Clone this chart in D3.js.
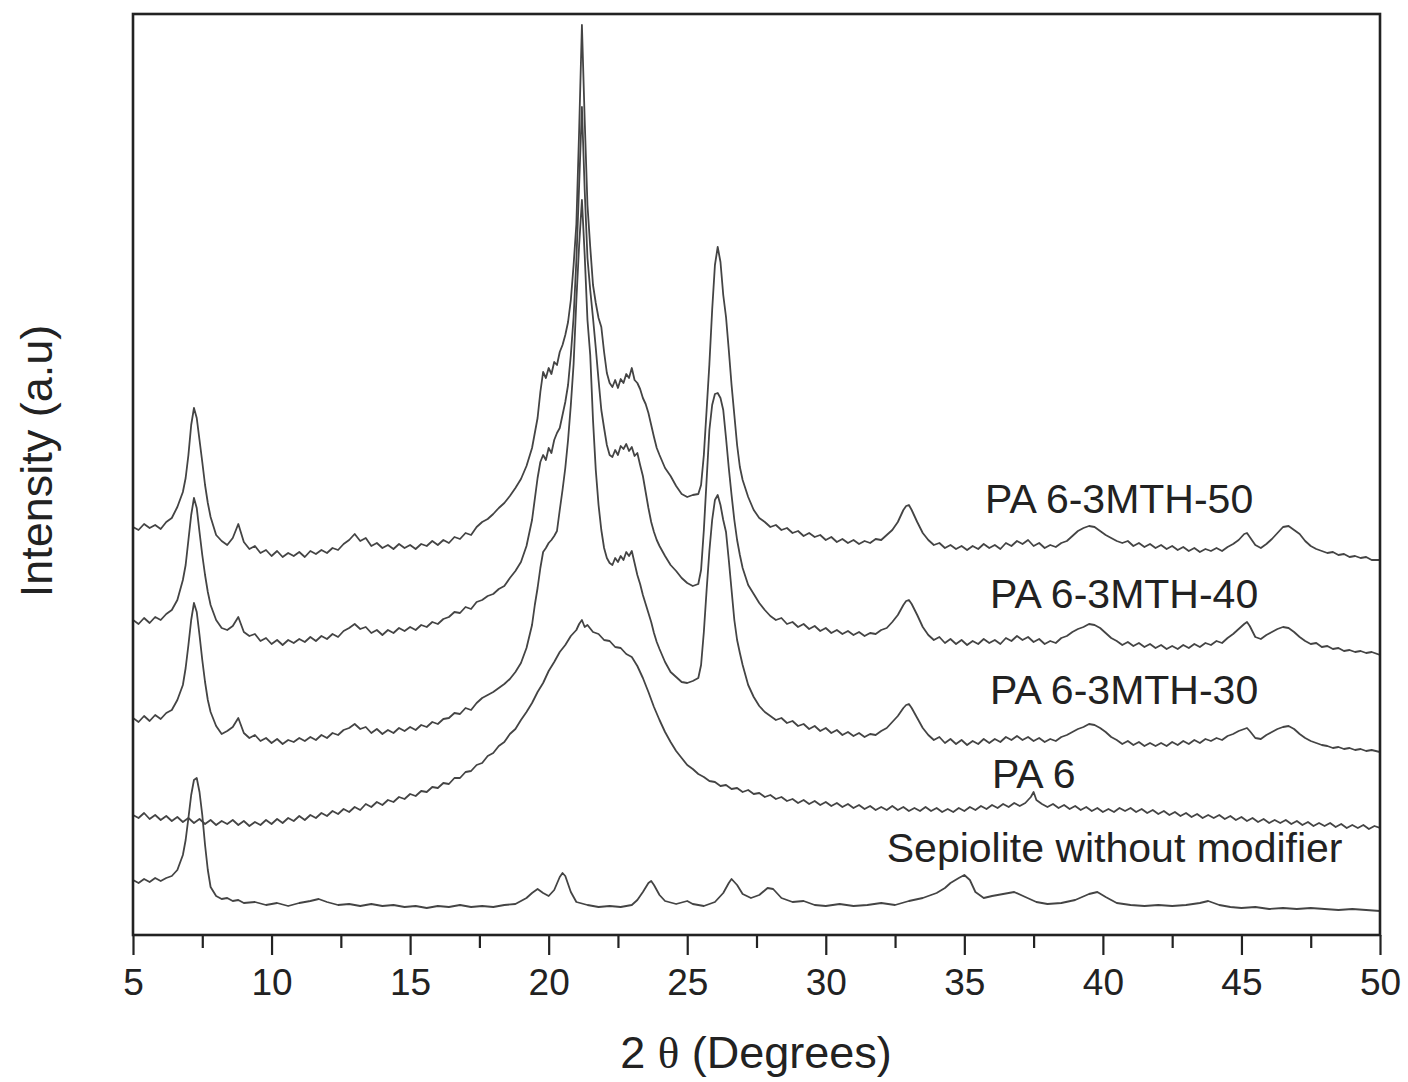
<!DOCTYPE html>
<html>
<head>
<meta charset="utf-8">
<script src="https://cdn.jsdelivr.net/npm/d3@7"></script>
<style>
body { margin: 0; background: #fff; }
text { font-family: "Liberation Sans", Arial, Helvetica, sans-serif; fill: #222; }
</style>
</head>
<body>
<div id="drawArea"></div>
<script>
// XRD patterns, [2 theta (deg), intensity (a.u., stacked as plotted)]
var pa6_3mth50 = [[5.0,473],[5.2,470],[5.4,476],[5.6,472],[5.8,475],[6.0,471],[6.2,478],[6.4,482],[6.6,493],[6.8,508],[6.9,522],[7.0,545],[7.1,575],[7.2,592],[7.3,582],[7.4,560],[7.5,538],[7.6,515],[7.7,497],[7.8,483],[8.0,465],[8.2,459],[8.4,455],[8.6,462],[8.8,476],[9.0,458],[9.2,451],[9.4,454],[9.6,447],[9.8,450],[10.0,444],[10.2,449],[10.4,443],[10.6,447],[10.8,444],[11.0,448],[11.2,443],[11.4,449],[11.6,446],[11.8,450],[12.0,447],[12.2,452],[12.4,450],[12.6,456],[12.8,460],[13.0,466],[13.2,459],[13.4,462],[13.6,454],[13.8,457],[14.0,452],[14.2,455],[14.4,451],[14.6,456],[14.8,452],[15.0,455],[15.2,451],[15.4,456],[15.6,454],[15.8,459],[16.0,455],[16.2,460],[16.4,457],[16.6,463],[16.8,461],[17.0,467],[17.2,465],[17.4,473],[17.6,478],[17.8,481],[18.0,486],[18.2,492],[18.4,497],[18.6,504],[18.8,512],[19.0,521],[19.2,534],[19.4,552],[19.6,582],[19.7,608],[19.8,628],[19.9,622],[20.0,632],[20.1,626],[20.2,638],[20.3,635],[20.4,648],[20.5,655],[20.6,665],[20.7,678],[20.8,700],[20.9,735],[21.0,776],[21.1,870],[21.2,975],[21.3,880],[21.4,795],[21.5,753],[21.6,715],[21.7,697],[21.8,682],[21.9,673],[22.0,648],[22.1,627],[22.2,617],[22.3,613],[22.4,620],[22.5,612],[22.6,621],[22.7,617],[22.8,626],[22.9,622],[23.0,632],[23.1,620],[23.2,617],[23.3,611],[23.4,602],[23.5,596],[23.6,587],[23.7,575],[23.8,563],[23.9,552],[24.0,545],[24.2,532],[24.4,524],[24.6,514],[24.8,506],[25.0,503],[25.2,505],[25.4,506],[25.5,515],[25.6,545],[25.7,590],[25.8,636],[25.9,690],[26.0,735],[26.1,753],[26.2,738],[26.3,705],[26.4,683],[26.5,650],[26.6,615],[26.7,585],[26.8,555],[26.9,533],[27.0,520],[27.2,503],[27.4,490],[27.6,482],[27.8,478],[28.0,473],[28.2,475],[28.4,470],[28.6,472],[28.8,467],[29.0,469],[29.2,464],[29.4,467],[29.6,463],[29.8,465],[30.0,460],[30.2,463],[30.4,458],[30.6,461],[30.8,457],[31.0,460],[31.2,456],[31.4,459],[31.6,457],[31.8,461],[32.0,460],[32.2,465],[32.4,470],[32.6,478],[32.8,490],[32.9,494],[33.0,495],[33.1,490],[33.3,478],[33.5,467],[33.7,460],[33.9,455],[34.1,457],[34.3,452],[34.5,455],[34.7,451],[34.9,454],[35.1,450],[35.3,454],[35.5,451],[35.7,456],[35.9,452],[36.1,455],[36.3,451],[36.5,457],[36.7,454],[36.9,459],[37.1,456],[37.3,460],[37.5,454],[37.7,457],[37.9,452],[38.1,455],[38.3,453],[38.5,457],[38.7,459],[38.9,464],[39.1,469],[39.3,472],[39.5,474],[39.7,473],[39.9,469],[40.1,465],[40.3,462],[40.5,459],[40.7,457],[40.9,459],[41.1,454],[41.3,457],[41.5,453],[41.7,456],[41.9,452],[42.1,455],[42.3,451],[42.5,454],[42.7,450],[42.9,453],[43.1,449],[43.3,452],[43.5,448],[43.7,451],[43.9,449],[44.1,452],[44.3,449],[44.5,453],[44.7,456],[44.9,460],[45.1,466],[45.2,467],[45.3,463],[45.5,455],[45.7,452],[45.9,456],[46.1,461],[46.3,467],[46.5,473],[46.7,474],[46.9,470],[47.1,466],[47.3,459],[47.5,454],[47.7,451],[47.9,449],[48.1,447],[48.3,448],[48.5,445],[48.7,446],[48.9,443],[49.1,444],[49.3,442],[49.5,443],[49.7,440],[50.0,440]];

var pa6_3mth40 = [[5.0,380],[5.2,376],[5.4,382],[5.6,377],[5.8,383],[6.0,380],[6.2,386],[6.4,390],[6.6,400],[6.8,420],[6.9,435],[7.0,460],[7.1,485],[7.2,502],[7.3,492],[7.4,468],[7.5,445],[7.6,425],[7.7,408],[7.8,395],[8.0,380],[8.2,372],[8.4,370],[8.6,374],[8.8,383],[9.0,368],[9.2,364],[9.4,366],[9.6,359],[9.8,362],[10.0,356],[10.2,360],[10.4,355],[10.6,360],[10.8,357],[11.0,361],[11.2,358],[11.4,363],[11.6,359],[11.8,364],[12.0,361],[12.2,366],[12.4,363],[12.6,369],[12.8,372],[13.0,376],[13.2,371],[13.4,373],[13.6,367],[13.8,370],[14.0,365],[14.2,370],[14.4,367],[14.6,372],[14.8,369],[15.0,373],[15.2,370],[15.4,375],[15.6,373],[15.8,378],[16.0,376],[16.2,381],[16.4,383],[16.6,388],[16.8,387],[17.0,393],[17.2,391],[17.4,398],[17.6,400],[17.8,404],[18.0,406],[18.2,411],[18.4,414],[18.6,422],[18.8,429],[19.0,438],[19.2,454],[19.4,480],[19.6,522],[19.7,538],[19.8,545],[19.9,540],[20.0,552],[20.1,547],[20.2,560],[20.3,567],[20.4,572],[20.5,585],[20.6,598],[20.7,615],[20.8,645],[20.9,683],[21.0,740],[21.1,815],[21.2,893],[21.3,810],[21.4,742],[21.5,710],[21.6,682],[21.7,652],[21.8,620],[21.9,590],[22.0,572],[22.1,555],[22.2,545],[22.3,543],[22.4,550],[22.5,545],[22.6,554],[22.7,551],[22.8,556],[22.9,549],[23.0,553],[23.1,544],[23.2,547],[23.3,535],[23.4,524],[23.5,508],[23.6,492],[23.7,478],[23.8,468],[23.9,460],[24.0,454],[24.2,444],[24.4,435],[24.6,429],[24.8,422],[25.0,417],[25.2,414],[25.4,416],[25.5,430],[25.6,470],[25.7,520],[25.8,570],[25.9,595],[26.0,606],[26.1,607],[26.2,602],[26.3,590],[26.4,562],[26.5,532],[26.6,505],[26.7,480],[26.8,460],[26.9,445],[27.0,432],[27.2,415],[27.4,406],[27.6,397],[27.8,390],[28.0,384],[28.2,380],[28.4,382],[28.6,376],[28.8,378],[29.0,373],[29.2,376],[29.4,371],[29.6,374],[29.8,369],[30.0,372],[30.2,367],[30.4,370],[30.6,366],[30.8,369],[31.0,365],[31.2,368],[31.4,364],[31.6,367],[31.8,366],[32.0,370],[32.2,372],[32.4,378],[32.6,385],[32.8,395],[32.9,399],[33.0,400],[33.1,396],[33.3,385],[33.5,373],[33.7,365],[33.9,360],[34.1,363],[34.3,357],[34.5,361],[34.7,356],[34.9,360],[35.1,355],[35.3,359],[35.5,356],[35.7,361],[35.9,357],[36.1,360],[36.3,356],[36.5,362],[36.7,359],[36.9,364],[37.1,360],[37.3,363],[37.5,358],[37.7,361],[37.9,356],[38.1,359],[38.3,357],[38.5,362],[38.7,364],[38.9,368],[39.1,371],[39.3,373],[39.5,376],[39.7,375],[39.9,372],[40.1,367],[40.3,362],[40.5,359],[40.7,355],[40.9,358],[41.1,354],[41.3,357],[41.5,353],[41.7,356],[41.9,352],[42.1,355],[42.3,351],[42.5,354],[42.7,351],[42.9,355],[43.1,352],[43.3,356],[43.5,353],[43.7,357],[43.9,355],[44.1,359],[44.3,357],[44.5,362],[44.7,366],[44.9,371],[45.1,376],[45.2,378],[45.3,374],[45.5,363],[45.7,361],[45.9,365],[46.1,368],[46.3,371],[46.5,373],[46.7,372],[46.9,368],[47.1,363],[47.3,359],[47.5,356],[47.7,357],[47.9,353],[48.1,354],[48.3,351],[48.5,352],[48.7,349],[48.9,350],[49.1,348],[49.3,349],[49.5,347],[49.7,348],[50.0,345]];

var pa6_3mth30 = [[5.0,282],[5.2,278],[5.4,284],[5.6,279],[5.8,285],[6.0,281],[6.2,287],[6.4,290],[6.6,300],[6.8,315],[6.9,332],[7.0,355],[7.1,380],[7.2,397],[7.3,388],[7.4,365],[7.5,340],[7.6,318],[7.7,300],[7.8,288],[8.0,274],[8.2,266],[8.4,269],[8.6,273],[8.8,282],[9.0,267],[9.2,262],[9.4,265],[9.6,259],[9.8,262],[10.0,257],[10.2,261],[10.4,256],[10.6,260],[10.8,258],[11.0,262],[11.2,259],[11.4,263],[11.6,260],[11.8,265],[12.0,262],[12.2,267],[12.4,265],[12.6,270],[12.8,272],[13.0,276],[13.2,271],[13.4,273],[13.6,267],[13.8,271],[14.0,266],[14.2,270],[14.4,267],[14.6,272],[14.8,269],[15.0,273],[15.2,270],[15.4,275],[15.6,273],[15.8,278],[16.0,276],[16.2,281],[16.4,282],[16.6,287],[16.8,286],[17.0,292],[17.2,290],[17.4,297],[17.6,302],[17.8,305],[18.0,308],[18.2,312],[18.4,316],[18.6,321],[18.8,328],[19.0,337],[19.2,352],[19.4,375],[19.5,395],[19.6,412],[19.7,432],[19.8,448],[19.9,452],[20.0,457],[20.1,460],[20.2,464],[20.3,469],[20.4,490],[20.5,510],[20.6,532],[20.7,560],[20.8,595],[20.9,636],[21.0,700],[21.1,755],[21.2,800],[21.3,745],[21.4,680],[21.5,645],[21.6,580],[21.7,530],[21.8,495],[21.9,470],[22.0,452],[22.1,442],[22.2,437],[22.3,435],[22.4,442],[22.5,438],[22.6,444],[22.7,440],[22.8,448],[22.9,444],[23.0,449],[23.1,437],[23.2,425],[23.3,416],[23.4,405],[23.5,396],[23.6,387],[23.7,378],[23.8,367],[23.9,358],[24.0,351],[24.2,338],[24.4,328],[24.6,323],[24.8,318],[25.0,317],[25.2,319],[25.4,322],[25.5,335],[25.6,368],[25.7,410],[25.8,449],[25.9,480],[26.0,500],[26.1,505],[26.2,495],[26.3,480],[26.4,468],[26.5,440],[26.6,410],[26.7,380],[26.8,360],[26.9,347],[27.0,335],[27.2,315],[27.4,303],[27.6,294],[27.8,288],[28.0,284],[28.2,280],[28.4,282],[28.6,277],[28.8,279],[29.0,274],[29.2,276],[29.4,271],[29.6,274],[29.8,269],[30.0,272],[30.2,267],[30.4,270],[30.6,265],[30.8,268],[31.0,264],[31.2,267],[31.4,263],[31.6,266],[31.8,265],[32.0,269],[32.2,272],[32.4,278],[32.6,284],[32.8,292],[32.9,295],[33.0,296],[33.1,292],[33.3,282],[33.5,272],[33.7,265],[33.9,260],[34.1,263],[34.3,257],[34.5,261],[34.7,256],[34.9,260],[35.1,255],[35.3,259],[35.5,256],[35.7,261],[35.9,257],[36.1,261],[36.3,258],[36.5,263],[36.7,260],[36.9,264],[37.1,260],[37.3,263],[37.5,259],[37.7,262],[37.9,258],[38.1,261],[38.3,259],[38.5,263],[38.7,265],[38.9,268],[39.1,271],[39.3,273],[39.5,276],[39.7,275],[39.9,272],[40.1,268],[40.3,263],[40.5,260],[40.7,256],[40.9,259],[41.1,255],[41.3,258],[41.5,254],[41.7,257],[41.9,254],[42.1,257],[42.3,254],[42.5,258],[42.7,255],[42.9,259],[43.1,256],[43.3,260],[43.5,257],[43.7,261],[43.9,259],[44.1,262],[44.3,260],[44.5,264],[44.7,266],[44.9,269],[45.1,271],[45.2,272],[45.3,269],[45.5,262],[45.7,261],[45.9,265],[46.1,268],[46.3,271],[46.5,273],[46.7,274],[46.9,271],[47.1,266],[47.3,262],[47.5,259],[47.7,257],[47.9,255],[48.1,254],[48.3,252],[48.5,253],[48.7,251],[48.9,252],[49.1,250],[49.3,251],[49.5,249],[49.7,250],[50.0,248]];

var pa6 = [[5.0,185],[5.2,182],[5.4,187],[5.6,181],[5.8,185],[6.0,180],[6.2,184],[6.4,179],[6.6,183],[6.8,178],[7.0,182],[7.2,177],[7.4,181],[7.6,176],[7.8,180],[8.0,175],[8.2,179],[8.4,176],[8.6,180],[8.8,175],[9.0,179],[9.2,174],[9.4,178],[9.6,175],[9.8,180],[10.0,176],[10.2,181],[10.4,177],[10.6,182],[10.8,179],[11.0,184],[11.2,180],[11.4,185],[11.6,182],[11.8,187],[12.0,184],[12.2,189],[12.4,186],[12.6,191],[12.8,188],[13.0,193],[13.2,190],[13.4,196],[13.6,193],[13.8,198],[14.0,195],[14.2,200],[14.4,198],[14.6,203],[14.8,201],[15.0,206],[15.2,204],[15.4,209],[15.6,208],[15.8,213],[16.0,212],[16.2,217],[16.4,216],[16.6,222],[16.8,222],[17.0,228],[17.2,229],[17.4,235],[17.6,237],[17.8,244],[18.0,247],[18.2,254],[18.4,258],[18.6,266],[18.8,271],[19.0,280],[19.2,288],[19.4,297],[19.6,308],[19.8,317],[20.0,329],[20.2,338],[20.4,348],[20.6,355],[20.8,364],[21.0,370],[21.1,376],[21.2,380],[21.3,373],[21.4,375],[21.6,368],[21.8,366],[22.0,360],[22.2,359],[22.4,353],[22.6,352],[22.8,346],[23.0,343],[23.2,334],[23.4,322],[23.6,308],[23.8,293],[24.0,280],[24.2,268],[24.4,258],[24.6,249],[24.8,242],[25.0,235],[25.2,231],[25.4,226],[25.6,223],[25.8,219],[26.0,218],[26.2,214],[26.4,215],[26.6,211],[26.8,212],[27.0,208],[27.2,210],[27.4,206],[27.6,207],[27.8,203],[28.0,205],[28.2,201],[28.4,203],[28.6,199],[28.8,201],[29.0,197],[29.2,200],[29.4,196],[29.6,199],[29.8,195],[30.0,198],[30.2,194],[30.4,197],[30.6,193],[30.8,196],[31.0,192],[31.2,195],[31.4,191],[31.6,194],[31.8,190],[32.0,193],[32.2,190],[32.4,194],[32.6,190],[32.8,193],[33.0,189],[33.2,192],[33.4,189],[33.6,193],[33.8,189],[34.0,192],[34.2,188],[34.4,191],[34.6,188],[34.8,192],[35.0,189],[35.2,193],[35.4,190],[35.6,194],[35.8,191],[36.0,195],[36.2,192],[36.4,196],[36.6,193],[36.8,197],[37.0,194],[37.2,197],[37.4,203],[37.5,208],[37.6,200],[37.8,196],[38.0,193],[38.2,196],[38.4,192],[38.6,195],[38.8,191],[39.0,194],[39.2,190],[39.4,193],[39.6,189],[39.8,192],[40.0,188],[40.2,191],[40.4,188],[40.6,192],[40.8,189],[41.0,192],[41.2,188],[41.4,191],[41.6,187],[41.8,190],[42.0,186],[42.2,189],[42.4,185],[42.6,188],[42.8,184],[43.0,187],[43.2,183],[43.4,186],[43.6,182],[43.8,185],[44.0,182],[44.2,185],[44.4,181],[44.6,184],[44.8,180],[45.0,183],[45.2,179],[45.4,182],[45.6,178],[45.8,181],[46.0,177],[46.2,180],[46.4,177],[46.6,180],[46.8,176],[47.0,179],[47.2,175],[47.4,178],[47.6,174],[47.8,177],[48.0,174],[48.2,177],[48.4,173],[48.6,176],[48.8,172],[49.0,175],[49.2,172],[49.4,175],[49.6,171],[49.8,174],[50.0,172]];

var sepiolite = [[5.0,120],[5.2,117],[5.4,121],[5.6,118],[5.8,122],[6.0,119],[6.2,122],[6.4,124],[6.6,130],[6.8,145],[6.9,160],[7.0,182],[7.1,205],[7.2,220],[7.3,222],[7.4,208],[7.5,185],[7.6,155],[7.7,130],[7.8,113],[8.0,104],[8.2,101],[8.4,102],[8.6,99],[8.8,100],[9.0,97],[9.4,98],[9.8,95],[10.2,97],[10.6,94],[11.0,97],[11.4,99],[11.7,101],[12.0,98],[12.4,95],[12.8,96],[13.2,94],[13.6,96],[14.0,94],[14.4,95],[14.8,93],[15.2,94],[15.6,92],[16.0,94],[16.4,93],[16.8,95],[17.2,93],[17.6,94],[18.0,93],[18.4,95],[18.8,96],[19.2,102],[19.4,107],[19.6,111],[19.8,107],[20.0,104],[20.2,110],[20.4,123],[20.5,127],[20.6,124],[20.8,108],[21.0,98],[21.4,95],[21.8,93],[22.2,94],[22.6,93],[23.0,95],[23.2,100],[23.4,108],[23.6,117],[23.7,119],[23.8,115],[24.0,105],[24.2,99],[24.6,96],[25.0,99],[25.2,96],[25.6,94],[26.0,98],[26.3,107],[26.5,117],[26.6,121],[26.8,115],[27.0,106],[27.3,102],[27.6,105],[27.9,112],[28.1,111],[28.4,102],[28.8,98],[29.2,99],[29.6,95],[30.0,94],[30.5,96],[31.0,94],[31.5,95],[32.0,97],[32.5,95],[33.0,99],[33.5,102],[34.0,107],[34.3,112],[34.5,117],[34.8,122],[35.0,125],[35.2,120],[35.4,108],[35.7,102],[36.0,104],[36.4,106],[36.8,108],[37.2,103],[37.6,98],[38.0,96],[38.5,97],[39.0,100],[39.5,106],[39.8,108],[40.1,103],[40.5,97],[41.0,95],[41.5,94],[42.0,95],[42.5,94],[43.0,95],[43.5,97],[43.8,99],[44.2,95],[44.6,93],[45.0,92],[45.5,93],[46.0,91],[46.5,92],[47.0,91],[47.5,92],[48.0,91],[48.5,90],[49.0,91],[49.5,90],[50.0,89]];

var seriesNames = ["PA 6-3MTH-50", "PA 6-3MTH-40", "PA 6-3MTH-30", "PA 6", "Sepiolite without modifier"];
var majorTicks = [5, 10, 15, 20, 25, 30, 35, 40, 45, 50];
var minorTicks = [7.5, 12.5, 17.5, 22.5, 27.5, 32.5, 37.5, 42.5, 47.5];

var svg_width = 1408;
var svg_height = 1082;
var plotLeft = 133, plotRight = 1380, plotTop = 14, plotBottom = 935;

var svg = d3.select("#drawArea").append("svg")
	.attr("width", svg_width)
	.attr("height", svg_height);

var x = d3.scaleLinear().domain([5, 50]).range([plotLeft, plotRight]);
var y = d3.scaleLinear().domain([65, 986]).range([plotBottom, plotTop]);

svg.append("clipPath").attr("id", "plotClip")
	.append("rect")
		.attr("x", plotLeft).attr("y", plotTop)
		.attr("width", plotRight - plotLeft).attr("height", plotBottom - plotTop);

var line = d3.line()
	.x(function(d) { return x(d[0]); })
	.y(function(d) { return y(d[1]); });

var allSeries = [pa6_3mth50, pa6_3mth40, pa6_3mth30, pa6, sepiolite];

svg.append("g")
	.attr("clip-path", "url(#plotClip)")
	.selectAll("path")
	.data(allSeries)
	.enter().append("path")
		.attr("d", line)
		.attr("fill", "none")
		.attr("stroke", "#444")
		.attr("stroke-width", 1.8)
		.attr("stroke-linejoin", "round");

// labels sit at a (2 theta, intensity) spot right of each trace
var labelSpots = [[35.75, 487], [35.93, 392], [35.93, 296], [36.0, 212], [32.2, 138]];
svg.append("g").selectAll("text")
	.data(seriesNames)
	.enter().append("text")
		.attr("x", function(d, i) { return x(labelSpots[i][0]); })
		.attr("y", function(d, i) { return y(labelSpots[i][1]); })
		.attr("font-size", 41)
		.text(function(d) { return d; });

// x axis: major + minor ticks
var xMajor = d3.axisBottom(x).tickValues(majorTicks).tickSize(20).tickPadding(14)
	.tickFormat(d3.format("d"));
var xMinor = d3.axisBottom(x).tickValues(minorTicks).tickSize(13).tickFormat("");

var gMajor = svg.append("g").attr("transform", "translate(0," + plotBottom + ")").call(xMajor);
var gMinor = svg.append("g").attr("transform", "translate(0," + plotBottom + ")").call(xMinor);
[gMajor, gMinor].forEach(function(g) {
	g.select(".domain").remove();
	g.selectAll(".tick line").attr("stroke", "#222").attr("stroke-width", 2.2);
});
gMajor.selectAll(".tick text")
	.attr("font-size", 37)
	.attr("fill", "#222")
	.style("font-family", "'Liberation Sans', Arial, sans-serif");

// frame
svg.append("rect")
	.attr("x", plotLeft).attr("y", plotTop)
	.attr("width", plotRight - plotLeft).attr("height", plotBottom - plotTop)
	.attr("fill", "none")
	.attr("stroke", "#222")
	.attr("stroke-width", 2.6);

// axis titles
var xTitle = svg.append("text")
	.attr("x", 756)
	.attr("y", 1068)
	.attr("text-anchor", "middle")
	.attr("font-size", 45);
xTitle.append("tspan").text("2 ");
xTitle.append("tspan").style("font-family", "'Liberation Serif', 'DejaVu Serif', serif").text("\u03b8");
xTitle.append("tspan").text(" (Degrees)");

svg.append("text")
	.attr("transform", "translate(52," + 461 + ") rotate(-90)")
	.attr("text-anchor", "middle")
	.attr("font-size", 45)
	.text("Intensity (a.u)");
</script>
</body>
</html>
